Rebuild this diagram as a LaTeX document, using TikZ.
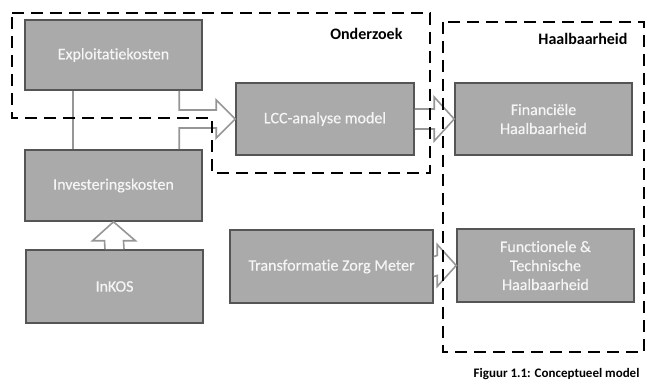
\documentclass[tikz,border=0pt]{standalone}
\usepackage{fontspec}
\setmainfont{Carlito}[Ligatures=NoCommon]
\newfontfamily\blockfont{Carlito}[Ligatures=NoCommon, FakeBold=0.4]
\usetikzlibrary{calc}
\definecolor{boxfill}{RGB}{170,170,170}
\definecolor{boxline}{RGB}{85,85,85}
\definecolor{arrowline}{RGB}{150,150,150}
\definecolor{boxtext}{RGB}{245,245,245}
\tikzset{
  block/.style={draw=boxline, line width=1.6pt, fill=boxfill, text=boxtext,
    inner sep=0pt, align=center, font=\blockfont\fontsize{16}{19}\selectfont},
  blockarrow/.style={draw=arrowline, line width=1.6pt, fill=white, line join=miter},
  region/.style={draw=black, line width=2.6pt, dash pattern=on 12pt off 7pt},
  regionlabel/.style={font=\fontsize{16}{19}\selectfont\bfseries, anchor=east},
}
\begin{document}
\begin{tikzpicture}[x=1pt, y=-1pt]
\useasboundingbox (0,0) rectangle (646,382);

% building blocks
\node[block, minimum width=177pt, minimum height=70pt] (expl) at (113.5,55) {Exploitatiekosten};
\node[block, minimum width=177pt, minimum height=71pt] (inv) at (113.5,185.5) {Investeringskosten};
\node[block, minimum width=177pt, minimum height=73pt] (inkos) at (114.5,286.5) {InKOS};
\node[block, minimum width=178pt, minimum height=72pt] (lcc) at (325,119) {LCC-analyse model};
\node[block, minimum width=203pt, minimum height=73pt] (tzm) at (331.5,266.5) {Transformatie Zorg Meter};
\node[block, minimum width=177pt, minimum height=72pt] (fin) at (543.5,119) {Financiële\\Haalbaarheid};
\node[block, minimum width=177pt, minimum height=73pt] (func) at (545.5,265.5) {Functionele \&\\Technische\\Haalbaarheid};

% costs feeding the LCC model
\fill[white] ($(expl.south west)+(49,1)$) -- ($(expl.south west)+(155,1)$)
  |- ($(lcc.west)+(-19,-9)$) -- ++(0,-10) -- (lcc.west) -- ++(-19,19) -- ++(0,-10)
  -| ($(inv.north west)+(155,-1)$) -- ($(inv.north west)+(49,-1)$) -- cycle;
\draw[blockarrow, fill=none] ($(expl.south west)+(49,0)$) -- ($(inv.north west)+(49,0)$);
\draw[blockarrow, fill=none] ($(expl.south west)+(155,0)$)
  |- ($(lcc.west)+(-19,-9)$) -- ++(0,-10) -- (lcc.west) -- ++(-19,19) -- ++(0,-10)
  -| ($(inv.north west)+(155,0)$);

% LCC model to financial feasibility
\filldraw[blockarrow] ($(lcc.east)+(0,-10)$) -- ($(fin.west)+(-20,-10)$) -- ++(0,-12)
  -- (fin.west) -- ++(-20,22) -- ++(0,-12) -- ($(lcc.east)+(0,10)$);

% care meter to functional and technical feasibility
\filldraw[blockarrow] ($(tzm.east)+(0,-10)$) -- ($(func.west)+(-19,-10)$) -- ++(0,-11)
  -- (func.west) -- ++(-19,21) -- ++(0,-11) -- ($(tzm.east)+(0,10)$);

% InKOS to investment costs
\filldraw[blockarrow] ($(inkos.north)+(-9.5,0)$) -- ($(inv.south)+(-9,19)$) -- ++(-12,0)
  -- (inv.south) -- ++(22,19) -- ++(-12,0) -- ($(inkos.north)+(9.5,0)$);

% research and feasibility regions
\draw[region] (12,13) -- (430,13) -- (430,173) -- (212,173) -- (212,118) -- (12,118) -- cycle;
\draw[region] (443,22) rectangle (644,352);
\node[regionlabel] (onderzoek) at (406,34) {Onderzoek};
\node[regionlabel] (haalbaarheid) at (631,39) {Haalbaarheid};

% caption
\node[font=\fontsize{13}{15}\selectfont\bfseries, anchor=east] (caption) at (643,374)
  {Figuur 1.1: Conceptueel model};
\end{tikzpicture}
\end{document}
